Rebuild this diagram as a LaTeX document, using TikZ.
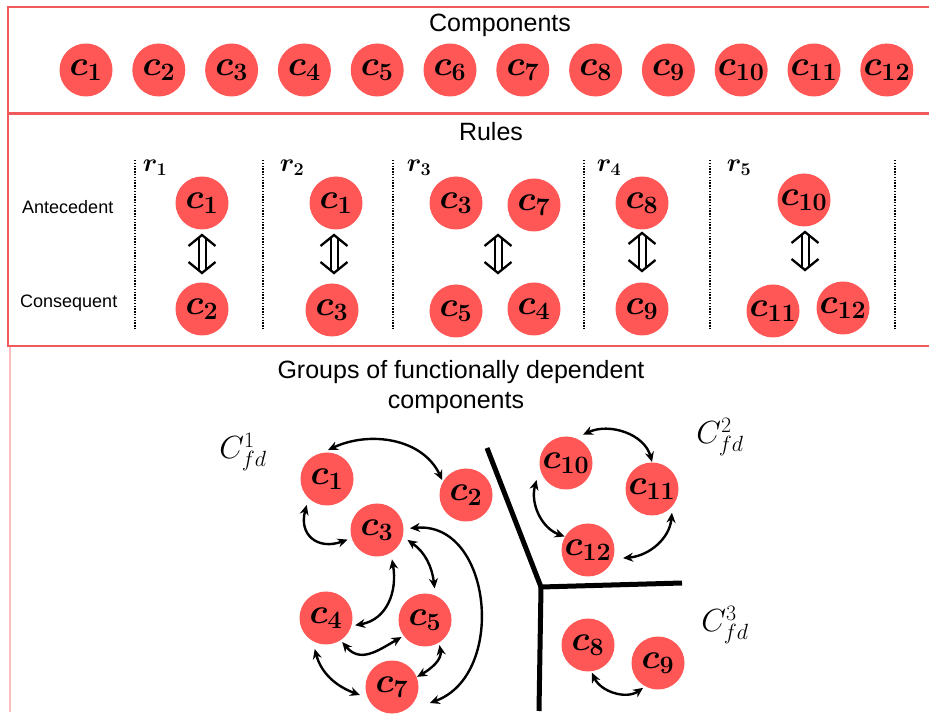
\RequirePackage{fix-cm}
\documentclass[tikz,border=0pt]{standalone}
\usepackage{amsmath}
\usepackage{bm}
\usepackage{fontspec}
\setmainfont{Liberation Sans}
\usetikzlibrary{arrows.meta,calc}

% larger sub/superscripts for the big math labels
\DeclareMathSizes{35}{35}{25}{18}
\DeclareMathSizes{32}{32}{22}{16}
\DeclareMathSizes{26}{26}{18}{13}

\definecolor{cfill}{RGB}{255,86,86}
\definecolor{frameline}{RGB}{240,90,90}
\definecolor{paleline}{RGB}{255,190,190}

\tikzset{
  comp/.style={circle, fill=cfill, minimum size=53pt, inner sep=0pt,
    font=\fontsize{35}{35}\selectfont},
  heading/.style={font=\fontsize{25}{25}\selectfont, inner sep=0pt, anchor=base},
  rowlabel/.style={font=\fontsize{18}{18}\selectfont, inner sep=0pt, anchor=base west},
  rulelabel/.style={font=\fontsize{26}{26}\selectfont, inner sep=0pt},
  grouplabel/.style={font=\fontsize{32}{32}\selectfont, inner sep=0pt},
  frame/.style={draw=frameline, line width=1.3pt},
  divider/.style={dotted, line width=1.6pt, dash pattern=on 1.4pt off 1.4pt},
  wall/.style={line width=5pt},
  link/.style={line width=2.4pt, {Stealth[length=10pt,width=9pt]}-{Stealth[length=10pt,width=9pt]}},
  iff/.pic={
    \draw[line width=2.3pt, line join=miter] (-13.5,8) -- (0,19) -- (13.5,8);
    \draw[line width=2.3pt, line join=miter] (-13.5,-8) -- (0,-19) -- (13.5,-8);
    \draw[line width=2pt] (-3.5,-16) -- (-3.5,16) (3.5,-16) -- (3.5,16);
  }
}

\begin{document}
\begin{tikzpicture}[x=1pt,y=1pt]
\useasboundingbox (0,0) rectangle (929,715);

% ---------- section frames ----------
\draw[frame] (940,708) -- (8,708) -- (8,602) -- (940,602);
\draw[frame] (940,601) -- (8,601) -- (8,369) -- (940,369);
\draw[draw=paleline, line width=1.6pt] (10,368) -- (10,3);

% ---------- components ----------
\node[heading] (hcomp) at (500,683) {Components};
\foreach \i in {1,...,12}{
  \node[comp] (k\i) at ({86+72.8*(\i-1)},645) {$\bm{c_{\i}}$};
}

% ---------- rules ----------
\node[heading] (hrules) at (491,574) {Rules};
\node[rowlabel] (ante) at (22,501) {Antecedent};
\node[rowlabel] (cons) at (20,407) {Consequent};

\foreach \x [count=\j] in {135,263,393,584,710,895}{
  \coordinate (dt\j) at (\x,555);
  \coordinate (db\j) at (\x,385);
  \draw[divider] (dt\j) -- (db\j);
}

\node[rulelabel] (r1) at (155,547) {$\bm{r_{1}}$};
\node[rulelabel] (r2) at (292,547) {$\bm{r_{2}}$};
\node[rulelabel] (r3) at (419,547) {$\bm{r_{3}}$};
\node[rulelabel] (r4) at (609,547) {$\bm{r_{4}}$};
\node[rulelabel] (r5) at (739,547) {$\bm{r_{5}}$};

% rule 1
\node[comp] (a1c1) at (202,512) {$\bm{c_{1}}$};
\node[comp] (b1c2) at (202,406) {$\bm{c_{2}}$};
\pic (eq1) at (202,461) {iff};
% rule 2
\node[comp] (a2c1) at (336,512) {$\bm{c_{1}}$};
\node[comp] (b2c3) at (332,405) {$\bm{c_{3}}$};
\pic (eq2) at (334,461) {iff};
% rule 3
\node[comp] (a3c3) at (456,512) {$\bm{c_{3}}$};
\node[comp] (a3c7) at (534,510) {$\bm{c_{7}}$};
\node[comp] (b3c5) at (456,404) {$\bm{c_{5}}$};
\node[comp] (b3c4) at (534,406) {$\bm{c_{4}}$};
\pic (eq3) at (498,461) {iff};
% rule 4
\node[comp] (a4c8) at (642,512) {$\bm{c_{8}}$};
\node[comp] (b4c9) at (642,406) {$\bm{c_{9}}$};
\pic (eq4) at (642,463) {iff};
% rule 5
\node[comp] (a5c10) at (804,515) {$\bm{c_{10}}$};
\node[comp] (b5c11) at (773,404) {$\bm{c_{11}}$};
\node[comp] (b5c12) at (843,407) {$\bm{c_{12}}$};
\pic (eq5) at (805,464) {iff};

% ---------- groups ----------
\node[heading] (hgroups) at (461,336) {Groups of functionally dependent};
\node[heading] (hgroups2) at (456,306) {components};

\node[grouplabel] (G1) at (243,263) {$C_{fd}^{1}$};
\node[grouplabel] (G2) at (720,278) {$C_{fd}^{2}$};
\node[grouplabel] (G3) at (725,90) {$C_{fd}^{3}$};

% separating walls
\coordinate (wj) at (541,128);
\coordinate (wa) at (487,267);
\coordinate (wb) at (682,132);
\coordinate (wc) at (539,4);
\draw[wall] (wa) -- (wj) -- (wb);
\draw[wall] (wj) -- (wc);

\node[comp] (g1) at (327,236) {$\bm{c_{1}}$};
\node[comp] (g2) at (466,220) {$\bm{c_{2}}$};
\node[comp] (g3) at (377,185) {$\bm{c_{3}}$};
\node[comp] (g4) at (326,97) {$\bm{c_{4}}$};
\node[comp] (g5) at (425,95) {$\bm{c_{5}}$};
\node[comp] (g7) at (392,28) {$\bm{c_{7}}$};
\node[comp] (g10) at (566,252) {$\bm{c_{10}}$};
\node[comp] (g11) at (652,226) {$\bm{c_{11}}$};
\node[comp] (g12) at (588,165) {$\bm{c_{12}}$};
\node[comp] (g8) at (588,70) {$\bm{c_{8}}$};
\node[comp] (g9) at (658,52) {$\bm{c_{9}}$};

% dependencies in the first group
\draw[link] ($(g1)+(88:29)$) to[out=25,in=115] ($(g2)+(148:28)$);
\draw[link] ($(g1)+(232:33)$) to[out=255,in=200,looseness=1.5] ($(g3)+(198:31)$);
\draw[link] ($(g3)+(297:33)$) to[out=280,in=10,looseness=1.1] ($(g4)+(346:30)$);
\draw[link] ($(g3)+(342:32)$) to[out=-35,in=97] ($(g5)+(73:33)$);
\draw[link] ($(g3)+(3:33)$) to[out=5,in=20,looseness=1.2] ($(g7)+(337:41)$);
\draw[link] ($(g4)+(304:29)$) to[out=-50,in=210,looseness=1.2] ($(g5)+(216:29)$);
\draw[link] ($(g4)+(250:33)$) to[out=-75,in=160] ($(g7)+(194:33)$);
\draw[link] ($(g5)+(300:29)$) to[out=-80,in=30] ($(g7)+(22:27)$);

% dependencies in the second group
\draw[link] ($(g10)+(59:33)$) to[out=25,in=105] ($(g11)+(90:27)$);
\draw[link] ($(g10)+(210:34)$) to[out=255,in=160] ($(g12)+(150:27)$);
\draw[link] ($(g11)+(310:31)$) to[out=265,in=5] ($(g12)+(347:36)$);

% dependency in the third group
\draw[link] ($(g8)+(278:28)$) to[out=-65,in=215] ($(g9)+(239:29)$);

\end{tikzpicture}
\end{document}
